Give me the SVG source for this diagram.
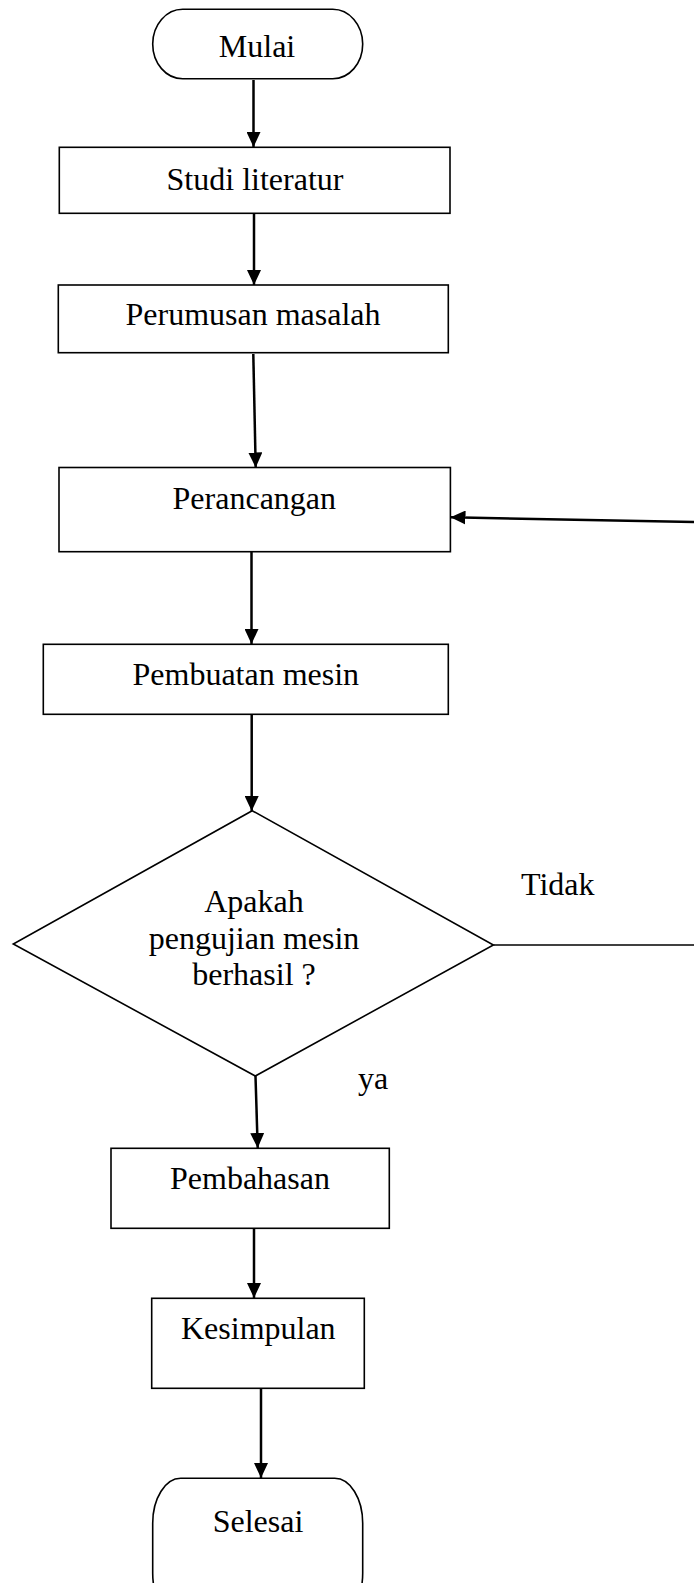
<svg xmlns="http://www.w3.org/2000/svg" width="694" height="1583" viewBox="0 0 694 1583">
<style>
.box{fill:#fff;stroke:#000;stroke-width:1.6}
.t{font-family:"Liberation Serif","Times New Roman",serif;font-size:32px;fill:#000;text-anchor:middle}
.ts{font-family:"Liberation Serif","Times New Roman",serif;font-size:32px;fill:#000}
.c{fill:none;stroke:#000;stroke-width:2.5}
.c1{fill:none;stroke:#000;stroke-width:1.6}
</style>
<defs>
<marker id="ah" viewBox="0 0 15 14" refX="15" refY="7" markerWidth="15" markerHeight="14" markerUnits="userSpaceOnUse" orient="auto">
<path d="M0,0 L15,7 L0,14 z" fill="#000"/>
</marker>
</defs>
<rect width="694" height="1583" fill="#fff"/>
<g id="connectors">
<line class="c" x1="253.5" y1="80" x2="253.5" y2="147" marker-end="url(#ah)"/>
<line class="c" x1="254" y1="214" x2="254" y2="285" marker-end="url(#ah)"/>
<line class="c" x1="253.3" y1="354" x2="255.7" y2="467.5" marker-end="url(#ah)"/>
<line class="c" x1="694" y1="522" x2="450.5" y2="517.3" marker-end="url(#ah)"/>
<line class="c" x1="251.5" y1="552" x2="251.5" y2="644" marker-end="url(#ah)"/>
<line class="c" x1="251.7" y1="714" x2="251.7" y2="811" marker-end="url(#ah)"/>
<line class="c1" x1="493.4" y1="945" x2="694" y2="945"/>
<line class="c" x1="255.5" y1="1076" x2="257.7" y2="1148" marker-end="url(#ah)"/>
<line class="c" x1="254" y1="1228" x2="254" y2="1298" marker-end="url(#ah)"/>
<line class="c" x1="261" y1="1388" x2="261" y2="1478" marker-end="url(#ah)"/>
<text class="ts" x="521" y="895">Tidak</text>
<text class="ts" x="358" y="1089">ya</text>
</g>
<g id="mulai">
<rect class="box" x="152.7" y="9.3" width="210" height="69.5" rx="30" ry="35"/>
<text class="t" x="257" y="57.3">Mulai</text>
</g>
<g id="studi">
<rect class="box" x="59.3" y="147.3" width="390.7" height="66"/>
<text class="t" x="255" y="189.5">Studi literatur</text>
</g>
<g id="perumusan">
<rect class="box" x="58.3" y="285" width="390" height="67.7"/>
<text class="t" x="253" y="325">Perumusan masalah</text>
</g>
<g id="perancangan">
<rect class="box" x="59" y="467.5" width="391.4" height="84.2"/>
<text class="t" x="254.3" y="509.3">Perancangan</text>
</g>
<g id="pembuatan">
<rect class="box" x="43.3" y="644.3" width="405" height="70"/>
<text class="t" x="245.8" y="685">Pembuatan mesin</text>
</g>
<g id="keputusan">
<polygon class="box" points="252.2,810.7 493.4,945 255.3,1076 13.3,944"/>
<text class="t" x="254" y="911.7">Apakah</text>
<text class="t" x="254" y="948.5">pengujian mesin</text>
<text class="t" x="254" y="985">berhasil ?</text>
</g>
<g id="pembahasan">
<rect class="box" x="111" y="1148.3" width="278.3" height="80"/>
<text class="t" x="250" y="1189.3">Pembahasan</text>
</g>
<g id="kesimpulan">
<rect class="box" x="151.7" y="1298.3" width="212.6" height="90"/>
<text class="t" x="258.3" y="1339.3">Kesimpulan</text>
</g>
<g id="selesai">
<rect class="box" x="152.7" y="1478.3" width="210" height="140" rx="28" ry="45"/>
<text class="t" x="258" y="1532">Selesai</text>
</g>
</svg>
